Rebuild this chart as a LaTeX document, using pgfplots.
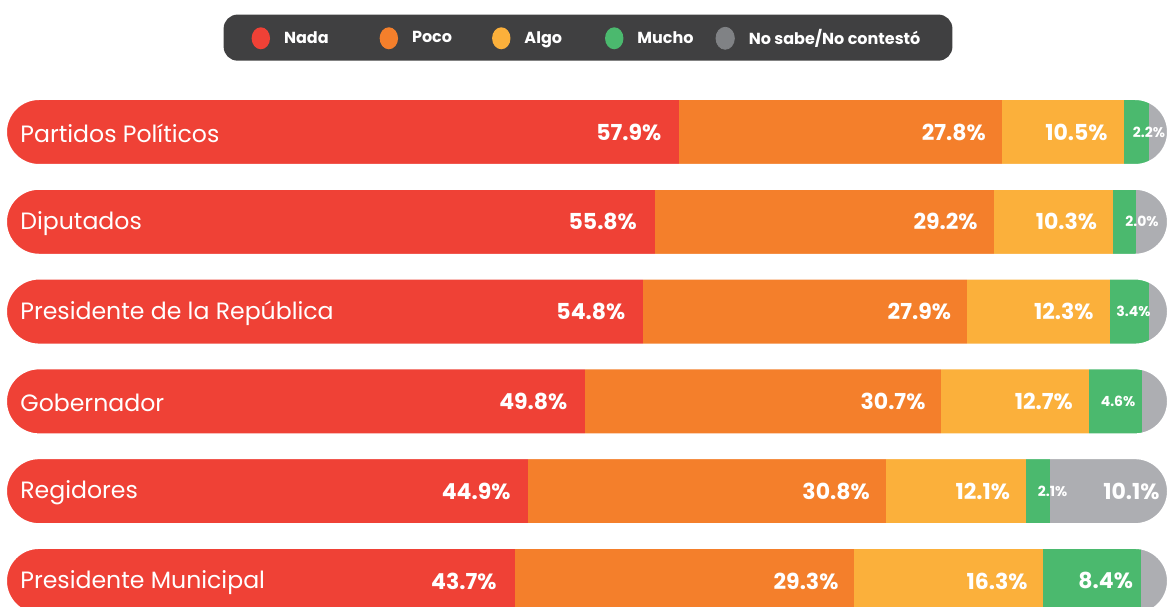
\documentclass[border=0pt]{standalone}
\usepackage{pgfplots}
\usepackage{pgfplotstable}
\pgfplotsset{compat=1.18}
\usepackage{fontspec}
\setmainfont{Poppins}
\definecolor{cNada}{HTML}{EF4136}
\definecolor{cPoco}{HTML}{F47F2B}
\definecolor{cAlgo}{HTML}{FBB03B}
\definecolor{cMucho}{HTML}{4BB96E}
\definecolor{cNS}{HTML}{ADAEB2}
\definecolor{cNSleg}{HTML}{808285}
\definecolor{legbg}{HTML}{404041}

\pgfplotstableread{
idx nada poco algo mucho ns
0 57.9 27.8 10.5 2.2 1.6
1 55.8 29.2 10.3 2.0 2.7
2 54.8 27.9 12.3 3.4 1.6
3 49.8 30.7 12.7 4.6 2.2
4 44.9 30.8 12.1 2.1 10.1
5 43.7 29.3 16.3 8.4 2.3
}\datatable

\pgfplotsset{
  circleg/.style={legend image code/.code={\fill[##1, draw=none] (3pt,-0.6pt) ellipse (4.6pt and 5.5pt);}},
  frame/.style={scale only axis, width=584.5pt, height=303.5pt,
    xmin=-0.6034, xmax=100.172, ymin=-1.470, ymax=5.290, y dir=reverse},
  biglab/.style={only marks, mark=none, point meta=explicit symbolic,
    nodes near coords={\pgfplotspointmeta\%},
    every node near coord/.append style={text=white, font=\bfseries\fontsize{11}{13}\selectfont, inner sep=0pt, anchor=east, xshift=#1}},
  smalllab/.style={only marks, mark=none, point meta=explicit symbolic,
    nodes near coords={\pgfplotspointmeta\%},
    every node near coord/.append style={text=white, font=\bfseries\fontsize{7}{8}\selectfont, inner sep=0pt, anchor=center}},
}
\newcommand{\legtxt}[1]{\raisebox{-1.6pt}{#1}}

\begin{document}
\begin{tikzpicture}
\begin{axis}[
  frame,
  xbar stacked, bar width=32pt,
  axis line style={draw=none}, major tick length=0pt,
  tick style={draw=none},
  xtick=\empty, ytick={0,1,2,3,4,5},
  yticklabels={Partidos Políticos, Diputados, Presidente de la República, Gobernador, Regidores, Presidente Municipal},
  yticklabel style={anchor=west, inner sep=0pt, xshift=10pt, yshift=-0.8pt, text=white, font=\fontsize{11.8}{14}\selectfont},
  axis on top,
  legend columns=5,
  legend style={at={(0.503,0.938)}, anchor=center, fill=legbg, draw=none, rounded corners=7pt, text=white,
    font=\bfseries\fontsize{8}{10}\selectfont, inner xsep=14pt, inner ysep=5.5pt,
    /tikz/every even column/.append style={column sep=10pt},
    /tikz/every odd column/.append style={column sep=5pt}},
]
\addplot[fill=cNada, draw=cNada, line width=0.4pt, circleg] table[x=nada, y=idx] {\datatable};
\addplot[fill=cPoco, draw=cPoco, line width=0.4pt, circleg] table[x=poco, y=idx] {\datatable};
\addplot[fill=cAlgo, draw=cAlgo, line width=0.4pt, circleg] table[x=algo, y=idx] {\datatable};
\addplot[fill=cMucho, draw=cMucho, line width=0.4pt, circleg] table[x=mucho, y=idx] {\datatable};
\addplot[fill=cNS, draw=cNS, line width=0.4pt,
  legend image code/.code={\fill[cNSleg] (3pt,-0.6pt) ellipse (4.6pt and 5.5pt);}]
  table[x=ns, y=idx] {\datatable};
\legend{\legtxt{Nada}\rule{13.5pt}{0pt}, \legtxt{Poco}\rule{8pt}{0pt}, \legtxt{Algo}\rule{9.5pt}{0pt}, \legtxt{Mucho}\rule{-1pt}{0pt}, \legtxt{No sabe/No contestó}}
\end{axis}

\begin{axis}[frame, hide axis]
% white masks that round the two ends of every bar
\fill[white, even odd rule] (axis cs:-0.6034,-0.372) rectangle (axis cs:100.172,0.372) [rounded corners=16pt] (axis cs:0,-0.3563) rectangle (axis cs:100,0.3563);
\fill[white, even odd rule] (axis cs:-0.6034,0.628) rectangle (axis cs:100.172,1.372) [rounded corners=16pt] (axis cs:0,0.6437) rectangle (axis cs:100,1.3563);
\fill[white, even odd rule] (axis cs:-0.6034,1.628) rectangle (axis cs:100.172,2.372) [rounded corners=16pt] (axis cs:0,1.6437) rectangle (axis cs:100,2.3563);
\fill[white, even odd rule] (axis cs:-0.6034,2.628) rectangle (axis cs:100.172,3.372) [rounded corners=16pt] (axis cs:0,2.6437) rectangle (axis cs:100,3.3563);
\fill[white, even odd rule] (axis cs:-0.6034,3.628) rectangle (axis cs:100.172,4.372) [rounded corners=16pt] (axis cs:0,3.6437) rectangle (axis cs:100,4.3563);
\fill[white, even odd rule] (axis cs:-0.6034,4.628) rectangle (axis cs:100.172,5.372) [rounded corners=16pt] (axis cs:0,4.6437) rectangle (axis cs:100,5.3563);
% Nada labels (at the end of each red segment)
\addplot[biglab=-8.5pt] coordinates {(57.9,0) [57.9] (55.8,1) [55.8] (54.8,2) [54.8] (49.8,3) [49.8] (44.9,4) [44.9] (43.7,5) [43.7]};
% Poco labels
\addplot[biglab=-7.5pt] coordinates {(85.7,0) [27.8] (85.0,1) [29.2] (82.7,2) [27.9] (80.5,3) [30.7] (75.7,4) [30.8] (73.0,5) [29.3]};
% Algo labels
\addplot[biglab=-7.5pt] coordinates {(96.2,0) [10.5] (95.3,1) [10.3] (95.0,2) [12.3] (93.2,3) [12.7] (87.8,4) [12.1] (89.3,5) [16.3]};
% Mucho labels
\addplot[smalllab] coordinates {(98.45,0) [2.2] (97.84,1) [2.0] (97.11,2) [3.4] (95.78,3) [4.6] (90.13,4) [2.1]};
\addplot[biglab=-3.5pt] coordinates {(97.7,5) [8.4]};
% No sabe label
\addplot[biglab=-3.5pt] coordinates {(100,4) [10.1]};
\end{axis}
\end{tikzpicture}
\end{document}
